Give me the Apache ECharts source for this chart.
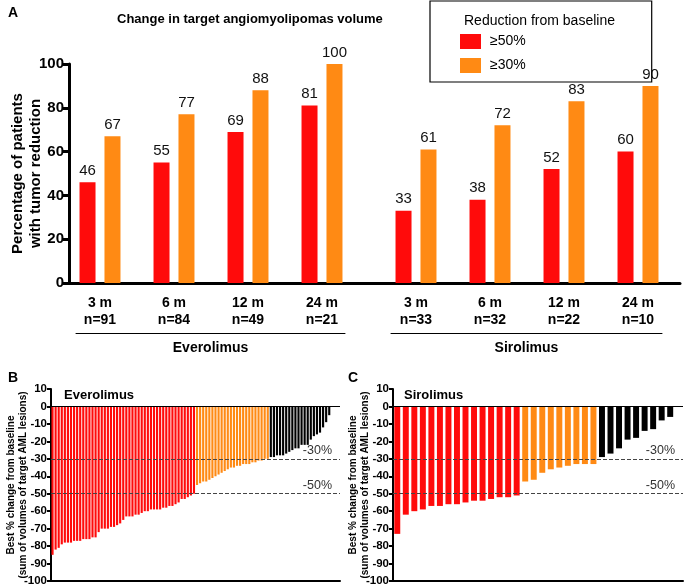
<!DOCTYPE html>
<html><head><meta charset="utf-8">
<script src="https://cdn.jsdelivr.net/npm/echarts@6/dist/echarts.min.js"></script>
<style>html,body{margin:0;padding:0;background:#fff}#c{width:685px;height:586px}</style>
</head><body><div id="c"></div>
<script>
// ---- Panel A data ----
const timepoints = ['3 m', '6 m', '12 m', '24 m'];
const nEverolimus = [91, 84, 49, 21];
const nSirolimus = [33, 32, 22, 10];
const evero50 = [46, 55, 69, 81];
const evero30 = [67, 77, 88, 100];
const siro50 = [33, 38, 52, 60];
const siro30 = [61, 72, 83, 90];
const yTicksA = [0, 20, 40, 60, 80, 100];
// ---- Panel B data (Everolimus waterfall, n=91) ----
const everoBest = [
  -85,-82,-81,-79,-78,-78,-78,-77,-77,-77,-76,-76,-76,-75,-75,-72,-70,-70,-70,-69,
  -69,-68,-67,-65,-63,-63,-63,-62,-62,-61,-60,-60,-59,-59,-59,-59,-58,-58,-57,-57,
  -56,-55,-53,-53,-52,-51,-50,
  -45,-44,-43,-43,-42,-41,-40,-39,-38,-37,-36,-35,-35,-34,-34,-33,-33,-33,-32,-32,-31,-31,-30,-30,
  -29,-29,-28,-28,-28,-27,-26,-25,-24,-24,-22,-22,-22,-19,-17,-16,-15,-12,-9,-5
];
// ---- Panel C data (Sirolimus waterfall, n=33) ----
const siroBest = [
  -73,-62,-60,-59,-57,-57,-56,-56,-55,-54,-54,-53,-52,-52,-51,
  -43,-42,-38,-36,-35,-34,-33,-33,-33,
  -29,-27,-24,-19,-18,-14,-13,-8,-6
];
const thresholds = [-30, -50];

const RED = '#ff0b0b', ORANGE = '#ff8a14', BLACK = '#000000';
const FONT = 'Liberation Sans, Arial, sans-serif';
const catLabels = (ns) => timepoints.map((t, i) => t + '\nn=' + ns[i]);
const colorFor = (v) => v <= -50 ? RED : (v <= -30 ? ORANGE : BLACK);

const chart = echarts.init(document.getElementById('c'));
const hiddenY = (min, max, gi) => ({ gridIndex: gi, type: 'value', min, max, show: false });
const catX = (gi, data) => ({
  gridIndex: gi, type: 'category', data,
  axisLine: { show: false }, axisTick: { show: false },
  axisLabel: { color: '#000', fontWeight: 'bold', fontSize: 14, lineHeight: 17, margin: 12, fontFamily: FONT, interval: 0 }
});
const bracketX = (gi, name) => ({
  gridIndex: gi, type: 'value', min: 0, max: 1, position: 'bottom',
  axisLine: { show: true, lineStyle: { color: '#000', width: 1 } },
  axisTick: { show: false }, axisLabel: { show: false }, splitLine: { show: false },
  name, nameLocation: 'middle', nameGap: 8, nameMoveOverlap: false,
  nameTextStyle: { color: '#000', fontWeight: 'bold', fontSize: 14, fontFamily: FONT, verticalAlign: 'top' }
});
const waterY = (gi) => ({
  gridIndex: gi, type: 'value', min: -100, max: 10, interval: 10,
  axisLine: { show: true, lineStyle: { color: '#000', width: 2 } },
  axisTick: { show: true, length: 4, lineStyle: { color: '#000', width: 2 } },
  axisLabel: { color: '#000', fontWeight: 'bold', fontSize: 11.5, margin: 4, fontFamily: FONT },
  splitLine: { show: false },
  name: 'Best % change from baseline\n(sum of volumes of target AML lesions)',
  nameLocation: 'middle', nameGap: 22, nameRotate: 90, nameMoveOverlap: false,
  nameTextStyle: { color: '#000', fontWeight: 'bold', fontSize: 10, lineHeight: 12, fontFamily: FONT }
});
const waterX = (gi, n, maxIdx) => ({
  gridIndex: gi, type: 'category', data: Array.from({ length: n }, (_, i) => String(i + 1)), max: maxIdx,
  axisLine: { show: true, onZero: false, lineStyle: { color: '#000', width: 2 } },
  axisTick: { show: false }, axisLabel: { show: false }
});
const refLines = {
  symbol: 'none', silent: true,
  data: [
    { yAxis: 0, lineStyle: { type: 'solid', color: '#000', width: 1 }, label: { show: false } },
    ...thresholds.map(t => ({ yAxis: t }))
  ],
  lineStyle: { type: 'dashed', color: '#444', width: 1 },
  label: { show: true, position: 'insideEndTop', formatter: '{c}%', color: '#333', fontSize: 12.5, fontFamily: FONT, distance: [8, 2] }
};
const labelTop = { show: true, position: 'top', distance: 4, color: '#111', fontSize: 15, fontFamily: FONT };
const G = (o) => Object.assign({ containLabel: false, outerBoundsMode: 'none' }, o);

chart.setOption({
  animation: false,
  textStyle: { fontFamily: FONT },
  title: [
    { text: 'A', left: 3, top: 1, textStyle: { fontSize: 14, fontWeight: 'bold', color: '#000' } },
    { text: 'Change in target angiomyolipomas volume', left: 112, top: 8, textStyle: { fontSize: 13, fontWeight: 'bold', color: '#000' } },
    { text: 'Reduction from baseline', left: 459, top: 9, textStyle: { fontSize: 14, fontWeight: 'normal', color: '#000' } },
    { text: 'B', left: 3, top: 366, textStyle: { fontSize: 14, fontWeight: 'bold', color: '#000' } },
    { text: 'C', left: 343, top: 366, textStyle: { fontSize: 14, fontWeight: 'bold', color: '#000' } },
    { text: 'Everolimus', left: 59, top: 384, textStyle: { fontSize: 13, fontWeight: 'bold', color: '#000' } },
    { text: 'Sirolimus', left: 399, top: 384, textStyle: { fontSize: 13, fontWeight: 'bold', color: '#000' } }
  ],
  legend: {
    data: ['≥50%', '≥30%'], left: 430, top: 1, orient: 'vertical', icon: 'rect',
    itemWidth: 21, itemHeight: 15, itemGap: 9,
    padding: [33, 126, 9, 30], borderColor: '#000', borderWidth: 1.2,
    textStyle: { fontSize: 14, color: '#000', padding: [0, 0, 0, 4] }
  },
  grid: [
    G({ left: 69, right: 5, top: 64, bottom: 303 }),
    G({ left: 63, width: 296, top: 64, bottom: 303 }),
    G({ left: 379, width: 296, top: 64, bottom: 303 }),
    G({ left: 76, width: 269, top: 313, bottom: 253 }),
    G({ left: 391, width: 271, top: 313, bottom: 253 }),
    G({ left: 51, right: 345, top: 389, bottom: 5 }),
    G({ left: 393, right: 2, top: 389, bottom: 5 })
  ],
  xAxis: [
    { gridIndex: 0, type: 'value', min: 0, max: 1,
      axisLine: { show: true, onZero: false, lineStyle: { color: '#000', width: 3 } },
      axisTick: { show: false }, axisLabel: { show: false }, splitLine: { show: false } },
    catX(1, catLabels(nEverolimus)),
    catX(2, catLabels(nSirolimus)),
    bracketX(3, 'Everolimus'),
    bracketX(4, 'Sirolimus'),
    waterX(5, everoBest.length, 93),
    waterX(6, siroBest.length, 33)
  ],
  yAxis: [
    { gridIndex: 0, type: 'value', min: 0, max: 100, interval: 20,
      axisLine: { show: true, lineStyle: { color: '#000', width: 3 } },
      axisTick: { show: true, length: 6, lineStyle: { color: '#000', width: 3 } },
      axisLabel: { color: '#000', fontWeight: 'bold', fontSize: 15, margin: 5,
        formatter: (v) => yTicksA.includes(v) ? String(v) : '' },
      splitLine: { show: false },
      name: 'Percentage of patients\nwith tumor reduction', nameLocation: 'middle', nameGap: 24, nameRotate: 90,
      nameMoveOverlap: false,
      nameTextStyle: { color: '#000', fontWeight: 'bold', fontSize: 15, lineHeight: 18 } },
    hiddenY(0, 100, 1),
    hiddenY(0, 100, 2),
    hiddenY(0, 1, 3),
    hiddenY(0, 1, 4),
    waterY(5),
    waterY(6)
  ],
  series: [
    { name: '≥50%', type: 'bar', xAxisIndex: 1, yAxisIndex: 1, data: evero50, barWidth: 16, barGap: '56%', itemStyle: { color: RED }, label: labelTop },
    { name: '≥30%', type: 'bar', xAxisIndex: 1, yAxisIndex: 1, data: evero30, barWidth: 16, barGap: '56%', itemStyle: { color: ORANGE }, label: labelTop },
    { name: '≥50%', type: 'bar', xAxisIndex: 2, yAxisIndex: 2, data: siro50, barWidth: 16, barGap: '56%', itemStyle: { color: RED }, label: labelTop },
    { name: '≥30%', type: 'bar', xAxisIndex: 2, yAxisIndex: 2, data: siro30, barWidth: 16, barGap: '56%', itemStyle: { color: ORANGE }, label: labelTop },
    { name: 'Everolimus best change', type: 'bar', xAxisIndex: 5, yAxisIndex: 5, data: everoBest, barCategoryGap: '30%',
      itemStyle: { color: (p) => colorFor(p.value) }, markLine: refLines },
    { name: 'Sirolimus best change', type: 'bar', xAxisIndex: 6, yAxisIndex: 6, data: siroBest, barCategoryGap: '30%',
      itemStyle: { color: (p) => colorFor(p.value) }, markLine: refLines }
  ]
});
</script>
</body></html>
